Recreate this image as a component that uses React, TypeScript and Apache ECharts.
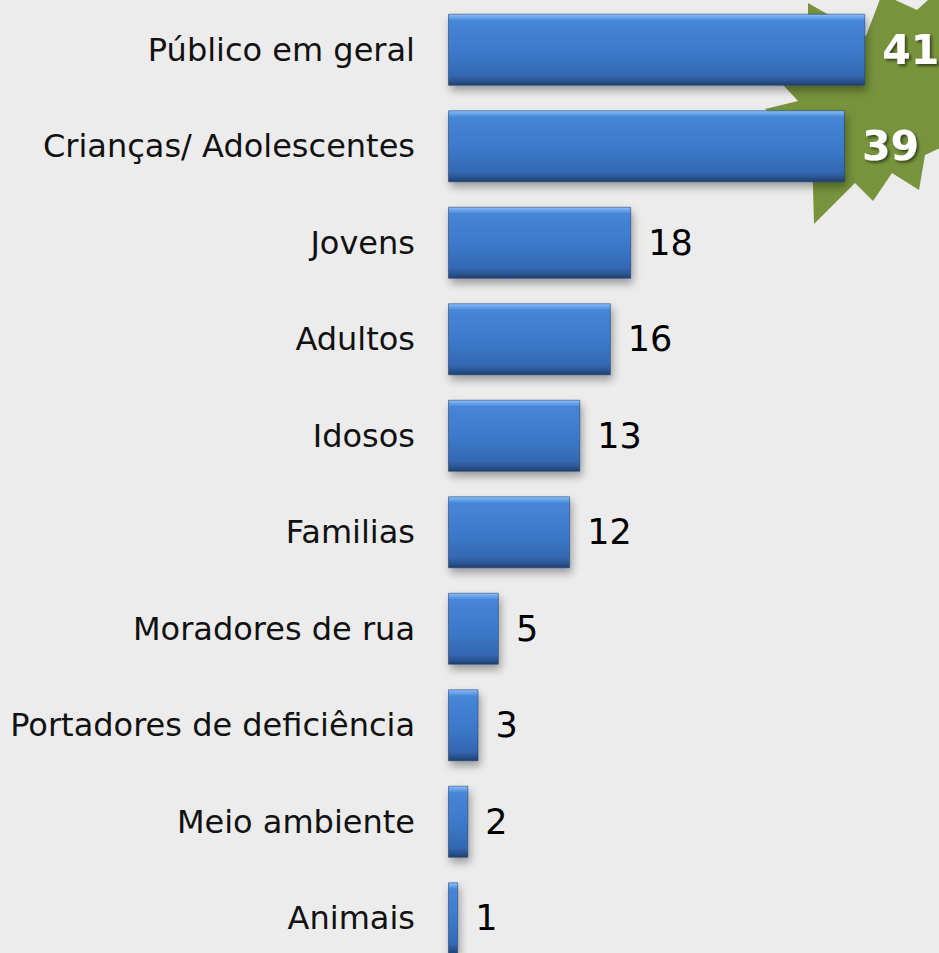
import React, { useEffect, useRef } from "react";
import * as echarts from "echarts";

const categories = [
  "Público em geral",
  "Crianças/ Adolescentes",
  "Jovens",
  "Adultos",
  "Idosos",
  "Familias",
  "Moradores de rua",
  "Portadores de deficiência",
  "Meio ambiente",
  "Animais",
];
const values = [41, 39, 18, 16, 13, 12, 5, 3, 2, 1];
const highlightedCount = 2;

const FONT = "'DejaVu Sans', Verdana, sans-serif";

const barGradient = new echarts.graphic.LinearGradient(0, 0, 0, 1, [
  { offset: 0, color: "#8cc3f8" },
  { offset: 0.035, color: "#6ea9ec" },
  { offset: 0.09, color: "#4686d7" },
  { offset: 0.55, color: "#3c78c8" },
  { offset: 0.86, color: "#3468b2" },
  { offset: 0.93, color: "#2b5796" },
  { offset: 1, color: "#213f6e" },
]);

const starPoints = [
  [808, 3],
  [866, 36],
  [882, -6],
  [917, 10],
  [950, -20],
  [1000, 60],
  [990, 125],
  [925, 155],
  [919, 190],
  [892, 173],
  [873, 201],
  [855, 183],
  [814, 224],
  [812, 150],
  [765, 109],
  [798, 101],
  [760, 60],
  [808, 30],
];

export default function App() {
  const ref = useRef<HTMLDivElement>(null);
  useEffect(() => {
    if (!ref.current) return;
    const chart = echarts.init(ref.current, null, { renderer: "svg" });
    const data = values.map((v, i) =>
      i < highlightedCount
        ? {
            value: v,
            label: {
              color: "#ffffff",
              fontWeight: "bold",
              fontSize: 41,
              textShadowColor: "rgba(0,0,0,0.55)",
              textShadowBlur: 3,
              textShadowOffsetX: 2,
              textShadowOffsetY: 2,
            },
          }
        : { value: v }
    );
    chart.setOption({
      animation: false,
      backgroundColor: "#ececec",
      graphic: [
        {
          type: "polygon",
          z: 0,
          shape: { points: starPoints },
          style: { fill: "#77933c" },
        },
      ],
      grid: { left: 448, top: 1.5, height: 965, width: 458 },
      xAxis: {
        type: "value",
        min: 0,
        max: 45,
        show: false,
      },
      yAxis: {
        type: "category",
        inverse: true,
        data: categories,
        axisLine: { show: false },
        axisTick: { show: false },
        splitLine: { show: false },
        axisLabel: {
          margin: 33,
          fontSize: 32,
          fontFamily: FONT,
          color: "#111111",
        },
      },
      series: [
        {
          type: "bar",
          z: 2,
          data,
          barWidth: 72,
          itemStyle: {
            color: barGradient,
            borderColor: "rgba(30,60,110,0.55)",
            borderWidth: 1,
            shadowColor: "rgba(0,0,0,0.35)",
            shadowBlur: 8,
            shadowOffsetX: 2,
            shadowOffsetY: 5,
          },
          label: {
            show: true,
            position: "right",
            distance: 17,
            fontSize: 35,
            fontFamily: FONT,
            color: "#000000",
          },
        },
      ],
    });
    return () => chart.dispose();
  }, []);
  return (
    <div
      ref={ref}
      style={{ position: "fixed", left: 0, top: 0, width: 939, height: 975 }}
    />
  );
}
